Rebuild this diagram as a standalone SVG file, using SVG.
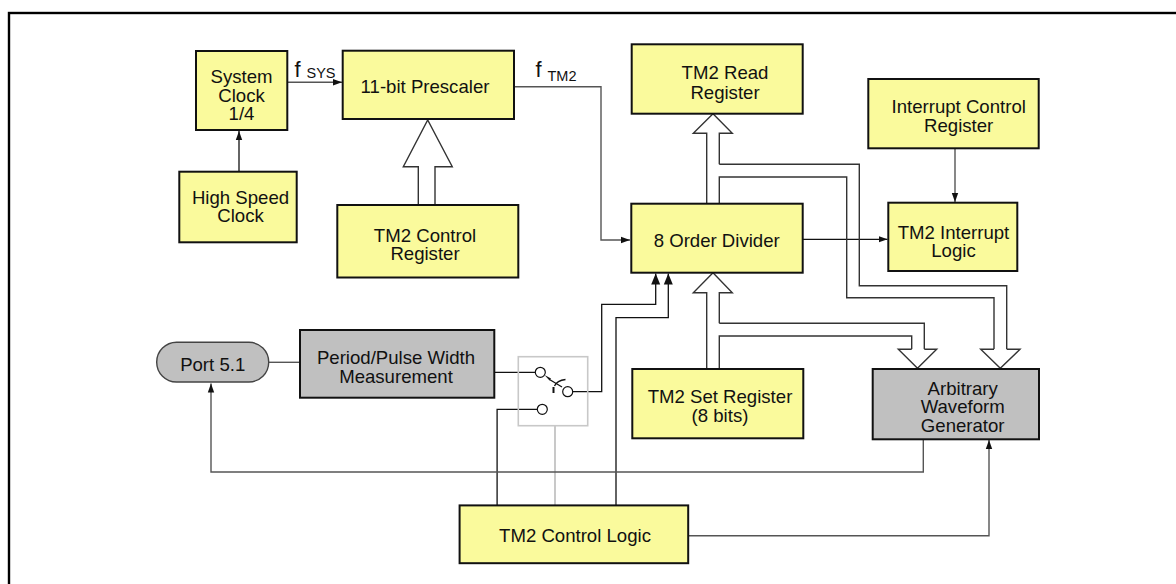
<svg xmlns="http://www.w3.org/2000/svg" width="1176" height="584" viewBox="0 0 1176 584">
<defs>
<style>
.box{fill:#fafa9c;stroke:#111;stroke-width:2}
.gbox{fill:#c0c0c0;stroke:#111;stroke-width:2}
.t{font-family:"Liberation Sans",Arial,sans-serif;font-size:18.6px;fill:#111;text-anchor:middle}
.s{font-family:"Liberation Sans",Arial,sans-serif;fill:#111}
.k{fill:none;stroke:#111;stroke-width:1.3}
.g{fill:none;stroke:#555;stroke-width:1.4}
.lg{fill:none;stroke:#bbb;stroke-width:1.6}
.bus{fill:none;stroke:#333;stroke-width:1.4}
.hol{fill:#fff;stroke:#333;stroke-width:1.4}
</style>
<marker id="ah" markerWidth="10" markerHeight="8" refX="9" refY="4" orient="auto" markerUnits="userSpaceOnUse">
<path d="M0,0.8 L9,4 L0,7.2 Z" fill="#111"/>
</marker>
<marker id="ahb" markerWidth="12" markerHeight="12" refX="11" refY="6" orient="auto" markerUnits="userSpaceOnUse">
<path d="M0,1.5 L11,6 L0,10.5 Z" fill="#111"/>
</marker>
</defs>
<rect width="1176" height="584" fill="#fff"/>
<rect x="9" y="13" width="1200" height="600" fill="none" stroke="#000" stroke-width="2.4"/>

<g id="connectors">
<!-- High speed clock to system clock -->
<path class="k" d="M239 171.7 V131" marker-end="url(#ah)"/>
<!-- fsys -->
<path class="g" d="M287.3 82.3 H342" marker-end="url(#ah)"/>
<!-- fTM2 -->
<path class="g" d="M514 86.7 H601 V240 H630" marker-end="url(#ah)"/>
<!-- divider to interrupt logic -->
<path class="k" d="M802.7 239.3 H887.5" marker-end="url(#ah)"/>
<!-- ICR to interrupt logic -->
<path class="g" d="M955 148.3 V202" marker-end="url(#ah)"/>
<!-- Prescaler hollow arrow from control register -->
<path class="hol" d="M418.3 205 V166.7 H403.3 L427.7 120 L452.3 166.7 H435 V205"/>
<!-- Read register hollow arrow from divider -->
<path class="hol" d="M706.7 203.7 V133.3 H693.3 L713 113.7 L732.3 133.3 H719.3 V164.3"/>
<path class="bus" d="M719.3 164.3 H859.3 V285.7 H1006.7 V349.3"/>
<path class="bus" d="M719.3 203.7 V177 H846.7 V297.7 H994 V349.3"/>
<path class="hol" d="M994 349.3 H980.7 L1000.3 368.3 L1020 349.3 H1006.7"/>
<!-- Set register hollow arrow into divider -->
<path class="hol" d="M706.7 369 V292.7 H693.3 L713 272.7 L732.3 292.7 H719.3 V323.3"/>
<path class="bus" d="M719.3 323.3 H924.3 V349.3"/>
<path class="bus" d="M719.3 369 V336 H911.7 V349.3"/>
<path class="hol" d="M911.7 349.3 H898.3 L917.5 368.3 L936.7 349.3 H924.3"/>
<!-- Port to PPWM -->
<path class="g" d="M268.7 362.3 H300"/>
<!-- PPWM to switch -->
<path class="k" d="M494.3 372.3 H535"/>
<!-- switch out to divider -->
<path class="k" d="M572.7 391.7 H601.7 V304.3 H655.7 V273.5" marker-end="url(#ahb)"/>
<!-- control logic to divider -->
<path class="k" d="M616 505.4 V317.7 H668.3 V273.5" marker-end="url(#ahb)"/>
<!-- control logic to switch bottom terminal -->
<path class="k" d="M497.1 505.4 V409.3 H537.3"/>
<!-- control logic to switch box (gray control) -->
<path class="lg" d="M555 505.4 V425.7"/>
<!-- AWG to port 5.1 -->
<path class="g" d="M923.3 439.3 V472 H211 V383.5" marker-end="url(#ah)"/>
<!-- control logic to AWG -->
<path class="g" d="M688.2 535.7 H989 V440" marker-end="url(#ah)"/>
</g>

<g id="system-clock">
<rect class="box" x="196" y="51" width="91.3" height="79"/>
<text class="t" x="241.5" y="83.2">System</text>
<text class="t" x="241.5" y="101.5">Clock</text>
<text class="t" x="241.5" y="119.8">1/4</text>
</g>
<g id="high-speed-clock">
<rect class="box" x="179.3" y="171.7" width="117.4" height="70.6"/>
<text class="t" x="240.5" y="204.2">High Speed</text>
<text class="t" x="240.5" y="222.4">Clock</text>
</g>
<g id="fsys-label">
<text class="s" x="294.5" y="76.7" font-size="22">f</text>
<text class="s" x="306.5" y="78.3" font-size="14.5">SYS</text>
</g>
<g id="prescaler">
<rect class="box" x="342.7" y="50.7" width="171.3" height="68.3"/>
<text class="t" x="425" y="92.5">11-bit Prescaler</text>
</g>
<g id="tm2-control-register">
<rect class="box" x="337.3" y="205" width="181" height="72.5"/>
<text class="t" x="425" y="241.5">TM2 Control</text>
<text class="t" x="425" y="259.8">Register</text>
</g>
<g id="ftm2-label">
<text class="s" x="535.5" y="76.7" font-size="22">f</text>
<text class="s" x="547.5" y="81" font-size="14.5">TM2</text>
</g>
<g id="tm2-read-register">
<rect class="box" x="631.7" y="44.3" width="171" height="69.4"/>
<text class="t" x="725" y="79.2">TM2 Read</text>
<text class="t" x="725" y="99">Register</text>
</g>
<g id="order-divider">
<rect class="box" x="631.3" y="203.7" width="171.4" height="69"/>
<text class="t" x="716.7" y="246.5">8 Order Divider</text>
</g>
<g id="interrupt-control-register">
<rect class="box" x="868.3" y="79" width="170.4" height="69.3"/>
<text class="t" x="958.7" y="113.2">Interrupt Control</text>
<text class="t" x="958.7" y="131.5">Register</text>
</g>
<g id="tm2-interrupt-logic">
<rect class="box" x="888.3" y="202.7" width="129" height="68.3"/>
<text class="t" x="953.5" y="239.2">TM2 Interrupt</text>
<text class="t" x="953.5" y="256.6">Logic</text>
</g>
<g id="port-5-1">
<rect x="156.7" y="342.3" width="112" height="39.7" rx="19.8" fill="#c0c0c0" stroke="#444" stroke-width="1.4"/>
<text class="t" x="212.7" y="370.8">Port 5.1</text>
</g>
<g id="period-pulse-width-measurement">
<rect class="gbox" x="300" y="330" width="194.3" height="67.7"/>
<text class="t" x="396" y="364.2">Period/Pulse Width</text>
<text class="t" x="396" y="383.2">Measurement</text>
</g>
<g id="switch">
<rect x="518.3" y="356.7" width="69.4" height="69" fill="none" stroke="#c8c8c8" stroke-width="1.6"/>
<circle cx="540.3" cy="372.3" r="5" fill="#fff" stroke="#111" stroke-width="1.2"/>
<circle cx="567.7" cy="391.7" r="5" fill="#fff" stroke="#111" stroke-width="1.2"/>
<circle cx="542.3" cy="409.3" r="5" fill="#fff" stroke="#111" stroke-width="1.2"/>
<path d="M544.5 375 L551 378.6 L549.5 380.6 Z" fill="#111"/>
<path class="k" d="M549.5 379.5 L562 387"/>
<path class="k" d="M565.5 379.5 Q557 380.5 554.5 386"/>
<path d="M553.5 387 L553.5 393" stroke="#111" stroke-width="2" fill="none"/>
</g>
<g id="tm2-set-register">
<rect class="box" x="632.3" y="369" width="171" height="69.3"/>
<text class="t" x="720" y="403.2">TM2 Set Register</text>
<text class="t" x="720" y="421.5">(8 bits)</text>
</g>
<g id="arbitrary-waveform-generator">
<rect class="gbox" x="872.7" y="369" width="166.3" height="70.3"/>
<text class="t" x="962.7" y="394.8">Arbitrary</text>
<text class="t" x="962.7" y="413.2">Waveform</text>
<text class="t" x="962.7" y="431.5">Generator</text>
</g>
<g id="tm2-control-logic">
<rect class="box" x="459.6" y="505.4" width="228.6" height="57.8"/>
<text class="t" x="575" y="542.2">TM2 Control Logic</text>
</g>
</svg>
